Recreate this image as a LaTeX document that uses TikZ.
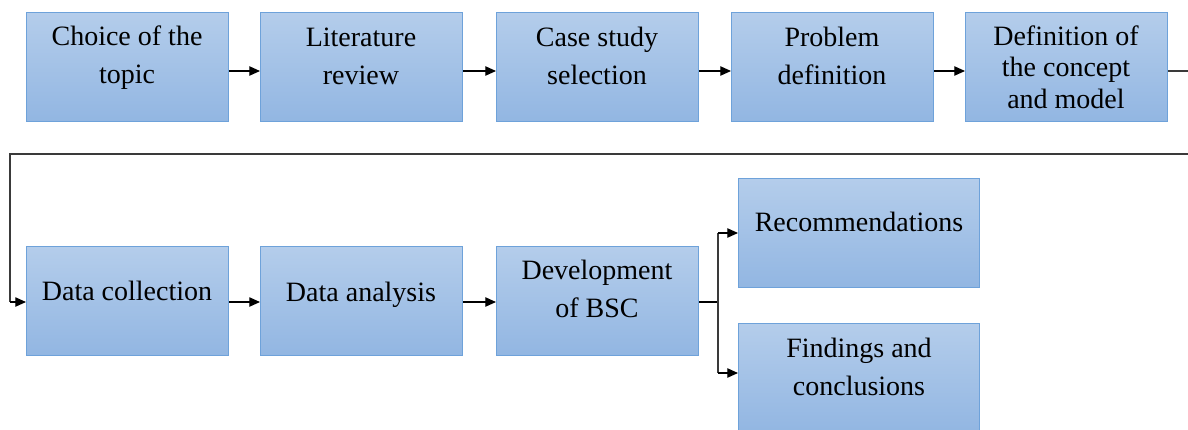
\documentclass[tikz,border=0pt]{standalone}
\usepackage{fontspec}
\setmainfont{Liberation Serif}
\newfontfamily\boxfont{Liberation Serif}
\usetikzlibrary{arrows.meta}
\definecolor{boxtop}{HTML}{B4CDEB}
\definecolor{boxbot}{HTML}{92B6E2}
\definecolor{boxedge}{HTML}{6EA2DA}
\definecolor{linkgray}{HTML}{3A3A3A}
\begin{document}
\begin{tikzpicture}[x=0.75pt,y=-0.75pt,
  box/.style={draw=boxedge, line width=0.8pt, top color=boxtop, bottom color=boxbot,
    minimum width=151.5pt, minimum height=81.75pt, anchor=north west, inner sep=0pt},
  wbox/.style={box, minimum width=180.75pt},
  lbl/.style={font=\boxfont\fontsize{21}{28.5}\selectfont, align=center, inner sep=0pt},
  lblt/.style={font=\boxfont\fontsize{21}{23.5}\selectfont, align=center, inner sep=0pt},
  arr/.style={-{Triangle[length=8pt,width=7pt]}, line width=0.9pt, black},
  link/.style={line width=1.3pt, draw=linkgray},
]
\clip (0,0) rectangle (1188,429);
\fill[white] (0,0) rectangle (1188,429);

% first row
\node[box] (b1) at (26,12)  {};
\node[box] (b2) at (260,12) {};
\node[box] (b3) at (496,12) {};
\node[box] (b4) at (731,12) {};
\node[box] (b5) at (965,12) {};
% second row
\node[box] (b6) at (26,246)  {};
\node[box] (b7) at (260,246) {};
\node[box] (b8) at (496,246) {};
% outcomes
\node[wbox] (r1) at (738,178) {};
\node[wbox] (r2) at (738,323) {};

% labels
\node[lbl]  (t1) at (127,58)  {Choice of the\\topic};
\node[lbl]  (t2) at (361,56)  {Literature\\review};
\node[lbl]  (t3) at (597,56)  {Case study\\selection};
\node[lbl]  (t4) at (832,56)  {Problem\\definition};
\node[lblt] (t5) at (1066,67) {Definition of\\the concept\\and model};
\node[lbl]  (t6) at (127,291) {Data collection};
\node[lbl]  (t7) at (361,295) {Data analysis};
\node[lbl]  (t8) at (597,289) {Development\\of BSC};
\node[lbl]  (t9) at (859,222) {Recommendations};
\node[lbl]  (t10) at (859,367) {Findings and\\conclusions};

% first row arrows
\coordinate (y1) at (0,71);
\draw[arr] (b1.east |- y1) -- (b2.west |- y1);
\draw[arr] (b2.east |- y1) -- (b3.west |- y1);
\draw[arr] (b3.east |- y1) -- (b4.west |- y1);
\draw[arr] (b4.east |- y1) -- (b5.west |- y1);

% wrap-around to the second row
\coordinate (w1) at (1200,71);
\coordinate (w2) at (1200,154);
\coordinate (w3) at (10,154);
\coordinate (w4) at (10,302);
\draw[link] (b5.east |- y1) -- (w1) -- (w2) -- (w3) -- (w4);
\draw[arr] (w4) -- (b6.west |- w4);

% second row arrows
\draw[arr] (b6.east |- w4) -- (b7.west |- w4);
\draw[arr] (b7.east |- w4) -- (b8.west |- w4);

% branch to the outcomes
\coordinate (s0) at (718,302);
\coordinate (s1) at (718,233);
\coordinate (s2) at (718,373);
\draw[line width=1.6pt, black] (b8.east |- s0) -- (s0);
\draw[line width=0.9pt, linkgray] (s1) -- (s2);
\draw[arr] (s1) -- (r1.west |- s1);
\draw[arr] (s2) -- (r2.west |- s2);
\end{tikzpicture}
\end{document}
